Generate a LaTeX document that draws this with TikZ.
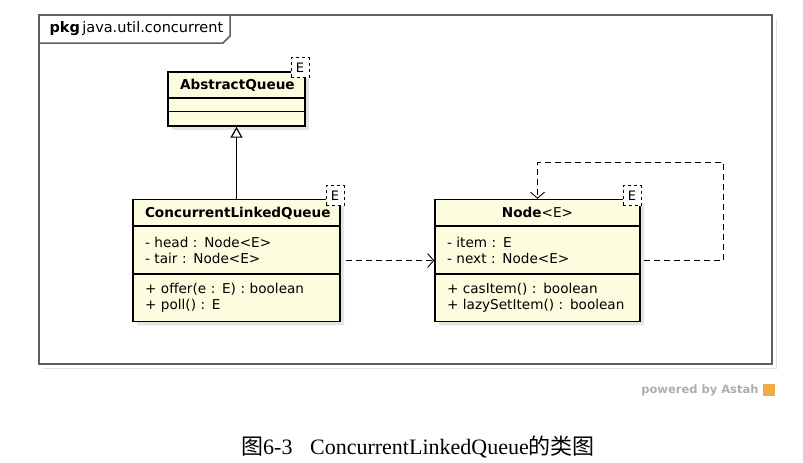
\documentclass[tikz,border=0pt]{standalone}
\usepackage{fontspec}
\setmainfont{DejaVu Sans}
\newfontfamily\captionfont{Liberation Serif}
\newfontfamily\cjkfont{Noto Sans CJK SC}
\usepackage{tikz}
\usetikzlibrary{positioning}
\usetikzlibrary{shapes.multipart}
\usetikzlibrary{arrows.meta}
\usetikzlibrary{shadows}
\definecolor{classfill}{RGB}{253,252,222}
\definecolor{framegray}{RGB}{95,95,95}
\definecolor{astahorange}{RGB}{240,170,70}
\newcommand{\umlpart}[3][l]{\parbox[c][#2][c]{\linewidth}{\if c#1\centering\fi #3}}

\begin{document}
\begin{tikzpicture}[x=1pt,y=-1pt,
    every node/.style={font=\fontsize{13.6}{16}\selectfont},
    umlclass/.style={rectangle split,rectangle split parts=3,draw,line width=1.6pt,
        fill=classfill,inner xsep=12pt,inner ysep=0pt,
        drop shadow={shadow xshift=4pt,shadow yshift=-4pt,opacity=.3,fill=black!35}},
    param/.style={draw,dashed,line width=0.8pt,fill=white,inner sep=1.5pt,
        minimum width=18pt,minimum height=20pt,font=\fontsize{13}{15}\selectfont},
    frame/.style={draw=framegray,line width=1.5pt},
    gen/.style={line width=1.2pt,-{Triangle[open,length=11pt,width=12pt]}},
    dep/.style={line width=0.9pt,dash pattern=on 6pt off 4pt,-{Straight Barb[length=6pt,width=14pt]}}]
    %
    \useasboundingbox (0,0) rectangle (803,463);
    % package frame
    \draw[black!12,line width=1pt] (776,19) -- (776,368) -- (43,368);
    \draw[frame] (39,15) rectangle (772,364);
    \draw[frame] (39,43) -- (223,43) -- (230,36) -- (230,15);
    \node[anchor=west,font=\fontsize{14.5}{16}\selectfont] (pkglabel) at (46,29) {\textbf{pkg}\,java.util.concurrent};
    %
    \node[umlclass,text width=113pt] (aq) at (236.5,99)
        {\umlpart[c]{24pt}{\textbf{AbstractQueue}}
        \nodepart{two}\umlpart{12pt}{}
        \nodepart{three}\umlpart{13pt}{}};
    \node[param] (aqparam) at (300,67.5) {E};
    %
    \node[umlclass,text width=183pt] (clq) at (236.5,260.5)
        {\umlpart[c]{25pt}{\textbf{ConcurrentLinkedQueue}}
        \nodepart{two}\umlpart{46pt}{- head : Node<E>\\- tair : Node<E>}
        \nodepart{three}\umlpart{46pt}{+ offer(e : E) : boolean\\+ poll() : E}};
    \node[param] (clqparam) at (335,195.5) {E};
    %
    \node[umlclass,text width=181pt] (qnode) at (537.5,260.5)
        {\umlpart[c]{25pt}{\textbf{Node}<E>}
        \nodepart{two}\umlpart{46pt}{- item : E\\- next : Node<E>}
        \nodepart{three}\umlpart{46pt}{+ casItem() : boolean\\+ lazySetItem() : boolean}};
    \node[param] (qnodeparam) at (632,195.5) {E};
    %
    \coordinate (loopcorner) at (723,162);
    \draw[gen] (clq.north) -- (aq.south);
    \draw[dep] ([xshift=5pt]clq.east) -- (qnode.west);
    \draw[dep] ([xshift=3pt]qnode.east) -| (loopcorner) -| (qnode.north);
    %
    \node[anchor=east,text=black!32,font=\bfseries\fontsize{11.5}{13}\selectfont] (powered) at (762,390) {powered by Astah};
    \node[fill=astahorange,minimum size=12pt,inner sep=0pt,right=1pt of powered] (astahicon) {};
    %
    \node[font=\captionfont\fontsize{22}{26}\selectfont] (caption) at (418,447)
        {{\cjkfont 图}6-3\hspace{0.8em}ConcurrentLinkedQueue{\cjkfont 的类图}};
\end{tikzpicture}
\end{document}
